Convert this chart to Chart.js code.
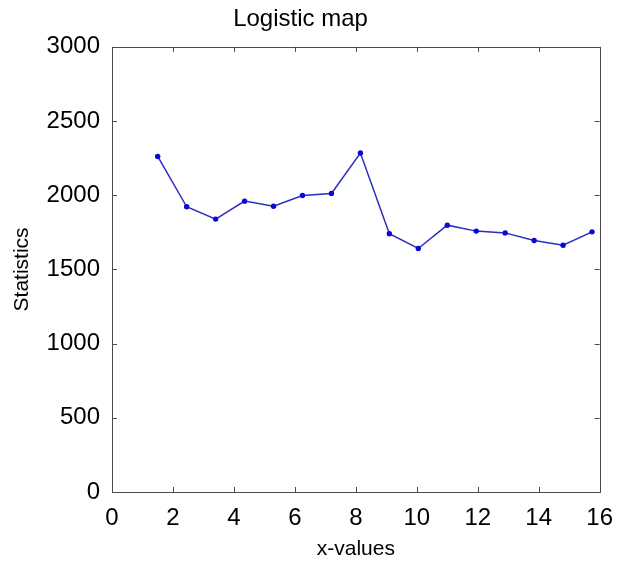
<!DOCTYPE html>
<html>
<head>
<meta charset="utf-8">
<script src="https://cdn.jsdelivr.net/npm/chart.js@4/dist/chart.umd.min.js"></script>
<style>
html,body{margin:0;padding:0;background:#fff;}
#wrap{width:625px;height:562px;position:relative;}
</style>
</head>
<body>
<div id="wrap"><canvas id="c" width="625" height="562"></canvas></div>
<script>
const xValues = [1.5, 2.45, 3.4, 4.35, 5.3, 6.25, 7.2, 8.15, 9.1, 10.05, 11.0, 11.95, 12.9, 13.85, 14.8, 15.75];
const statistics = [2261, 1922, 1839, 1960, 1926, 1998, 2012, 2284, 1740, 1641, 1798, 1758, 1746, 1695, 1663, 1753];
const xTicks = [0, 2, 4, 6, 8, 10, 12, 14, 16];
const yTicks = [0, 500, 1000, 1500, 2000, 2500, 3000];

const points = xValues.map((x, i) => ({x: x, y: statistics[i]}));
const FONT = 'Arial, "Liberation Sans", sans-serif';
const FRAME = '#4a4a4a';

const framePlugin = {
  id: 'frame',
  afterDraw(chart) {
    const {ctx, chartArea: a, scales} = chart;
    ctx.save();
    ctx.strokeStyle = FRAME;
    ctx.lineWidth = 1;
    ctx.strokeRect(Math.round(a.left) + 0.5, Math.round(a.top) + 0.5, Math.round(a.right - a.left), Math.round(a.bottom - a.top));
    const L = 5;
    ctx.beginPath();
    xTicks.forEach(v => {
      const px = Math.round(scales.x.getPixelForValue(v)) + 0.5;
      ctx.moveTo(px, a.bottom); ctx.lineTo(px, a.bottom - L);
      ctx.moveTo(px, a.top); ctx.lineTo(px, a.top + L);
    });
    yTicks.forEach(v => {
      const py = Math.round(scales.y.getPixelForValue(v)) + 0.5;
      ctx.moveTo(a.left, py); ctx.lineTo(a.left + L, py);
      ctx.moveTo(a.right, py); ctx.lineTo(a.right - L, py);
    });
    ctx.stroke();
    ctx.restore();
  }
};

new Chart(document.getElementById('c'), {
  type: 'line',
  data: {
    datasets: [{
      data: points,
      borderColor: '#2c2cbe',
      backgroundColor: '#0808d8',
      borderWidth: 1.5,
      pointRadius: 2.7,
      pointBorderWidth: 0,
      pointHoverRadius: 2.7,
      tension: 0,
      fill: false
    }]
  },
  options: {
    responsive: false,
    animation: false,
    events: [],
    layout: {padding: {left: 0, right: 24, top: 0, bottom: 0}},
    plugins: {
      legend: {display: false},
      tooltip: {enabled: false},
      title: {
        display: true,
        text: 'Logistic map',
        color: '#000',
        font: {family: FONT, size: 24, weight: 'normal', lineHeight: 1.2},
        padding: {top: 5, bottom: 13}
      }
    },
    scales: {
      x: {
        type: 'linear',
        min: 0, max: 16,
        afterBuildTicks(s) { s.ticks = xTicks.map(v => ({value: v})); },
        afterFit(s) { s.height = 70; },
        grid: {display: false, drawTicks: false},
        border: {display: false},
        ticks: {color: '#000', font: {family: FONT, size: 24}, padding: 12, maxRotation: 0, autoSkip: false,
                callback: v => String(v)},
        title: {display: true, text: 'x-values', color: '#000', font: {family: FONT, size: 21, lineHeight: 1.2}, padding: {top: 0, bottom: 0}}
      },
      y: {
        type: 'linear',
        min: 0, max: 3000,
        afterBuildTicks(s) { s.ticks = yTicks.map(v => ({value: v})); },
        afterFit(s) { s.width = 112; },
        grid: {display: false, drawTicks: false},
        border: {display: false},
        ticks: {color: '#000', font: {family: FONT, size: 24}, padding: 12, autoSkip: false,
                callback: v => String(v)},
        title: {display: true, text: 'Statistics', color: '#000', font: {family: FONT, size: 21, lineHeight: 1.2}, padding: {top: 10, bottom: 0}}
      }
    }
  },
  plugins: [framePlugin]
});
</script>
</body>
</html>
